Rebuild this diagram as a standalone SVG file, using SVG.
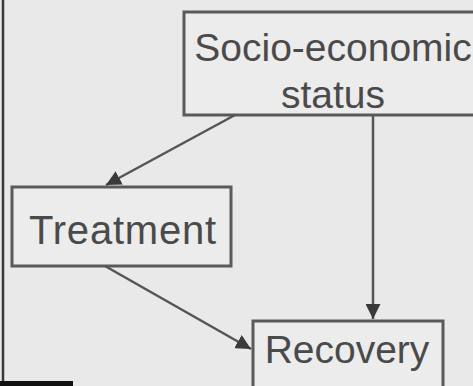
<svg xmlns="http://www.w3.org/2000/svg" width="473" height="386" viewBox="0 0 473 386">
<style>
.box{fill:#ececec;stroke:#5a5a5a;stroke-width:3}
.lbl{font-family:"Liberation Sans",Arial,sans-serif;font-size:39px;fill:#4a4a4a;text-anchor:middle}
.edge{stroke:#555;stroke-width:2.5;fill:none}
</style>
<defs>
<marker id="ah" viewBox="0 0 10 10" refX="10" refY="5" markerWidth="6" markerHeight="6" orient="auto" markerUnits="strokeWidth">
<path d="M0,0 L10,5 L0,10 z" fill="#3a3a3a"/>
</marker>
</defs>
<rect width="473" height="386" fill="#e9e9e9"/>
<line x1="3" y1="0" x2="3" y2="386" stroke="#3a3a3a" stroke-width="2.5"/>
<rect x="0" y="381" width="73" height="5" fill="#111"/>
<g id="socio">
<rect class="box" x="184" y="12" width="300" height="103"/>
<text class="lbl" x="333" y="61">Socio-economic</text>
<text class="lbl" x="333" y="108">status</text>
</g>
<g id="treatment">
<rect class="box" x="12" y="187" width="219" height="79"/>
<text class="lbl" x="123" y="244" style="font-size:40px;letter-spacing:0.8px">Treatment</text>
</g>
<g id="recovery">
<rect class="box" x="253" y="321" width="190" height="75"/>
<text class="lbl" x="347" y="363">Recovery</text>
</g>
<g id="connectors">
<line class="edge" x1="235" y1="115" x2="106" y2="185" marker-end="url(#ah)"/>
<line class="edge" x1="373" y1="115" x2="373" y2="319" marker-end="url(#ah)"/>
<line class="edge" x1="105" y1="266" x2="251" y2="349" marker-end="url(#ah)"/>
</g>
</svg>
